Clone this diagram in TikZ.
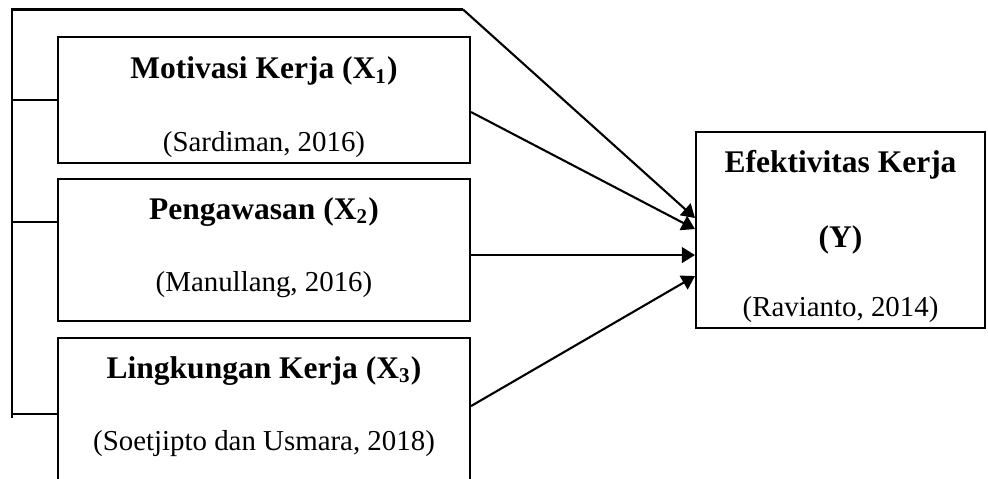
\documentclass[tikz,border=0pt]{standalone}
\usepackage{fontspec}
\setmainfont{Liberation Serif}
\usepackage{tikz}
\usetikzlibrary{positioning,arrows.meta}

\begin{document}
\begin{tikzpicture}[
  font=\fontsize{11}{13}\selectfont,
  every node/.style={align=center},
  var/.style   ={rectangle, draw=black, line width=0.8pt,
                 minimum width=5.515cm, minimum height=1.901cm, inner sep=0pt},
  dep/.style   ={var, minimum width=3.869cm, minimum height=2.624cm},
  line/.style  ={draw=black, line width=0.8pt},
  arrow/.style ={line, -{Triangle[length=5pt, width=6pt]}},
]
\useasboundingbox (0,0) rectangle (13.225,-6.399);
\clip (0,0) rectangle (13.225,-6.399);

% Independent variables (left column)
\node[var, minimum height=1.687cm] (motivasi) at (3.534,-1.339)
  {\rule{0pt}{13.6pt}\textbf{\fontsize{12}{13}\selectfont Motivasi Kerja (X\textsubscript{1})}\\[14.6pt](Sardiman, 2016)};
\node[var] (pengawasan) at (3.534,-3.347)
  {\textbf{\fontsize{12}{13}\selectfont Pengawasan (X\textsubscript{2})}\\[14.6pt](Manullang, 2016)\rule[-4.3pt]{0pt}{4.3pt}};
\node[var] (lingkungan) at (3.534,-5.475)
  {\textbf{\fontsize{12}{13}\selectfont Lingkungan Kerja (X\textsubscript{3})}\\[14.6pt](Soetjipto dan Usmara, 2018)\rule[-4.3pt]{0pt}{4.3pt}};

% Dependent variable
\node[dep] (efektivitas) at (11.251,-3.079)
  {\rule{0pt}{13.6pt}\textbf{\fontsize{12}{13}\selectfont Efektivitas Kerja}\\[15.4pt]
   \textbf{\fontsize{12}{13}\selectfont (Y)}\\[13.4pt](Ravianto, 2014)};

% Bracket joining X1, X2, X3 (simultaneous effect)
\coordinate (top)  at (0.161,-0.127);
\coordinate (bend) at (6.198,-0.127);
\coordinate (foot) at (0.161,-5.595);
\draw[line]  (foot) -- (top) -- (bend);
\draw[arrow] (bend) -- ([yshift=0.161cm]efektivitas.west);
\draw[line]  (motivasi.west) -- (motivasi.west -| top);
\draw[line]  ([yshift=0.375cm]pengawasan.west) -- ([yshift=0.375cm]pengawasan.west -| top);
\draw[line]  ([yshift=-0.067cm]lingkungan.west) -- ([yshift=-0.067cm]lingkungan.west -| top);

% Partial effects
\draw[arrow] ([yshift=-0.161cm]motivasi.east) -- ([yshift=0.013cm]efektivitas.west);
\draw[arrow] ([yshift=-0.067cm]pengawasan.east) -- ([yshift=-0.067cm]pengawasan.east -| efektivitas.west);
\draw[arrow] ([yshift=0.04cm]lingkungan.east) -- ([yshift=-0.616cm]efektivitas.west);

\end{tikzpicture}
\end{document}
